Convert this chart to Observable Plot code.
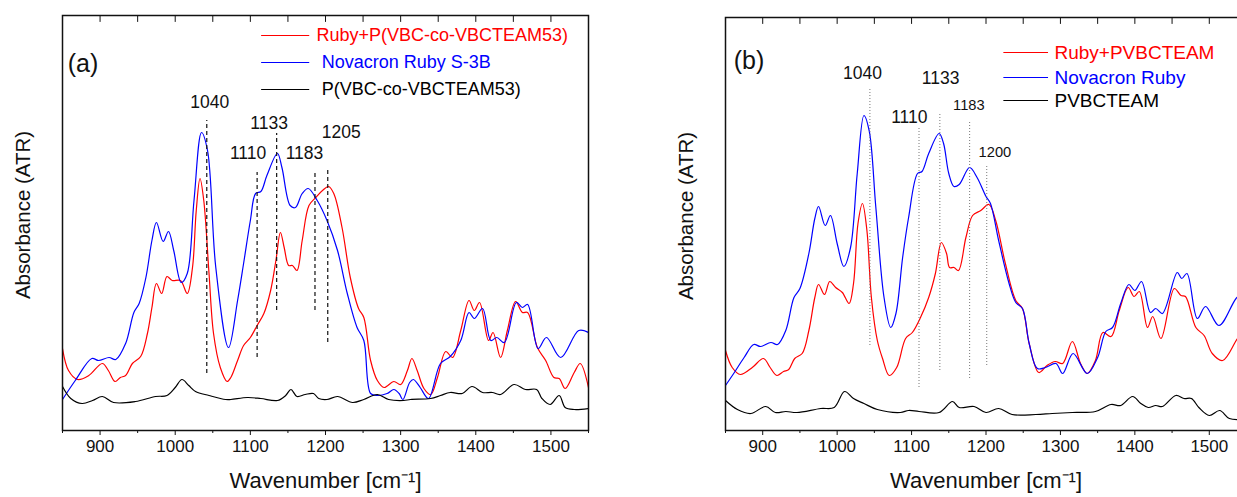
<!DOCTYPE html>
<html><head><meta charset="utf-8">
<script src="https://cdn.jsdelivr.net/npm/d3@7"></script>
<script src="https://cdn.jsdelivr.net/npm/@observablehq/plot@0.6"></script>
<style>
html,body{margin:0;padding:0;background:#fff;overflow:hidden;}
#wrap{position:relative;width:1237px;height:497px;overflow:hidden;background:#fff;}
#pa{position:absolute;left:0;top:0;width:618px;height:497px;}
#pb{position:absolute;left:618px;top:0;width:640px;height:497px;}
#wrap svg{max-width:none !important;display:block;}
</style></head>
<body><div id="wrap"><div id="pa"></div><div id="pb"></div></div>
<script>
// ---------- Panel (a) spectra: [wavenumber cm-1, absorbance a.u.] ----------
const aRubyMix = [[850,.082],[858,.060],[870,.051],[885,.055],[903,.067],[911,.060],[920,.049],[927,.053],[934,.055],[943,.067],[954,.074],[963,.097],[969,.123],[975,.147],[982,.137],[989,.154],[996,.150],[1007,.150],[1016,.137],[1023,.163],[1028,.220],[1033,.252],[1038,.230],[1045,.157],[1051,.097],[1060,.063],[1069,.049],[1074,.053],[1083,.070],[1091,.085],[1100,.093],[1109,.105],[1118,.117],[1127,.140],[1134,.170],[1140,.198],[1145,.183],[1151,.165],[1156,.165],[1162,.160],[1169,.190],[1178,.225],[1187,.233],[1196,.240],[1204,.244],[1211,.237],[1222,.203],[1233,.153],[1244,.122],[1251,.113],[1260,.070],[1269,.050],[1278,.043],[1291,.049],[1300,.046],[1309,.060],[1315,.072],[1322,.060],[1331,.042],[1340,.036],[1349,.053],[1360,.079],[1369,.073],[1380,.100],[1391,.130],[1398,.120],[1405,.128],[1417,.090],[1423,.098],[1433,.073],[1442,.100],[1453,.129],[1462,.118],[1469,.118],[1482,.083],[1493,.070],[1504,.053],[1511,.052],[1519,.042],[1531,.058],[1539,.067],[1550,.043]];
const aRubyDye = [[850,.031],[867,.050],[889,.072],[898,.070],[912,.073],[921,.071],[934,.087],[945,.118],[952,.127],[961,.153],[969,.190],[975,.208],[984,.189],[991,.199],[998,.180],[1008,.148],[1016,.157],[1025,.230],[1035,.298],[1043,.280],[1054,.163],[1071,.083],[1083,.130],[1091,.167],[1100,.210],[1107,.237],[1114,.239],[1122,.255],[1136,.277],[1142,.263],[1153,.225],[1160,.223],[1169,.237],[1177,.242],[1189,.230],[1202,.210],[1216,.180],[1229,.137],[1242,.103],[1251,.090],[1260,.037],[1269,.035],[1282,.037],[1291,.041],[1298,.037],[1303,.031],[1312,.048],[1317,.051],[1326,.043],[1337,.032],[1353,.067],[1366,.074],[1380,.090],[1391,.118],[1398,.112],[1409,.122],[1420,.090],[1428,.093],[1438,.088],[1454,.128],[1462,.123],[1469,.126],[1483,.082],[1494,.093],[1513,.073],[1537,.100],[1550,.098]];
const aPolymer = [[850,.044],[861,.032],[876,.027],[890,.030],[903,.034],[918,.028],[947,.029],[974,.034],[989,.035],[1000,.043],[1009,.051],[1018,.045],[1027,.039],[1045,.035],[1067,.031],[1074,.031],[1096,.033],[1114,.032],[1136,.030],[1147,.035],[1154,.041],[1162,.034],[1173,.036],[1184,.037],[1191,.032],[1202,.031],[1216,.034],[1236,.028],[1251,.031],[1269,.036],[1284,.031],[1304,.030],[1313,.031],[1340,.032],[1353,.035],[1366,.038],[1382,.037],[1395,.044],[1409,.038],[1422,.038],[1433,.036],[1451,.046],[1466,.041],[1481,.041],[1488,.032],[1499,.026],[1511,.035],[1519,.023],[1531,.021],[1550,.022]];

// ---------- Panel (b) spectra ----------
const bRubyMix = [[850,.080],[859,.063],[870,.056],[886,.063],[901,.072],[910,.063],[919,.055],[928,.059],[935,.061],[943,.072],[953,.077],[962,.100],[970,.133],[975,.146],[983,.136],[990,.149],[998,.143],[1007,.138],[1016,.127],[1022,.147],[1028,.207],[1034,.227],[1040,.200],[1046,.133],[1054,.090],[1061,.072],[1070,.055],[1080,.063],[1092,.092],[1101,.098],[1112,.113],[1123,.133],[1132,.157],[1140,.188],[1147,.177],[1151,.163],[1157,.163],[1163,.160],[1173,.193],[1182,.215],[1193,.220],[1204,.226],[1213,.210],[1226,.167],[1240,.130],[1249,.122],[1258,.087],[1271,.058],[1282,.065],[1293,.069],[1303,.067],[1316,.089],[1327,.067],[1336,.057],[1347,.070],[1357,.098],[1368,.094],[1379,.120],[1391,.143],[1399,.134],[1406,.139],[1417,.103],[1424,.114],[1435,.092],[1453,.142],[1462,.135],[1468,.134],[1482,.103],[1493,.095],[1504,.077],[1518,.070],[1538,.092],[1548,.100]];
const bRubyDye = [[850,.045],[861,.057],[875,.073],[888,.086],[897,.084],[911,.088],[920,.086],[931,.100],[942,.133],[950,.142],[962,.177],[970,.212],[975,.224],[984,.205],[991,.215],[1000,.187],[1009,.164],[1018,.183],[1027,.257],[1036,.315],[1043,.300],[1052,.223],[1063,.133],[1072,.103],[1079,.117],[1088,.173],[1096,.213],[1108,.257],[1114,.259],[1123,.277],[1137,.297],[1143,.287],[1150,.257],[1157,.244],[1164,.246],[1178,.263],[1188,.253],[1200,.234],[1206,.227],[1217,.190],[1231,.147],[1240,.128],[1249,.122],[1258,.087],[1269,.062],[1280,.063],[1294,.067],[1303,.057],[1317,.077],[1336,.057],[1350,.073],[1361,.099],[1370,.103],[1381,.127],[1392,.146],[1400,.140],[1409,.149],[1421,.118],[1428,.122],[1437,.117],[1457,.158],[1463,.152],[1470,.157],[1484,.112],[1495,.124],[1513,.105],[1536,.132],[1548,.140]];
const bPolymer = [[850,.030],[866,.021],[884,.017],[904,.024],[917,.018],[931,.019],[946,.018],[978,.022],[996,.023],[1010,.039],[1022,.032],[1036,.027],[1054,.021],[1085,.018],[1096,.020],[1110,.019],[1137,.018],[1155,.029],[1164,.023],[1184,.024],[1200,.018],[1217,.022],[1235,.016],[1267,.016],[1289,.017],[1316,.018],[1347,.019],[1368,.026],[1381,.025],[1397,.034],[1408,.027],[1418,.023],[1428,.025],[1437,.024],[1455,.035],[1466,.032],[1476,.032],[1486,.023],[1500,.015],[1514,.020],[1527,.012],[1548,.011]];

// ---------- Series names / colours ----------
const aNames = ["Ruby+P(VBC-co-VBCTEAM53)", "Novacron Ruby S-3B", "P(VBC-co-VBCTEAM53)"];
const bNames = ["Ruby+PVBCTEAM", "Novacron Ruby", "PVBCTEAM"];
const seriesColors = ["#ff0000", "#0000ff", "#000000"];

// ---------- Peak annotations ----------
const aPeakLabels = ["1040", "1110", "1133", "1183", "1205"];
const aPeakX      = [1042, 1109, 1135, 1186, 1203];
const aPeakTop    = [.310, .258, .297, .260, .263];
const aPeakBottom = [.057, .073, .120, .120, .088];
const aLabelX     = [1046, 1097, 1125, 1172, 1221];
const aLabelY     = [.328, .277, .307, .277, .298];
const aLabelSize  = [17.5, 17.5, 17.5, 17.5, 17.5];

const bPeakLabels = ["1040", "1110", "1133", "1183", "1200"];
const bPeakX      = [1044, 1110, 1138, 1178, 1201];
const bPeakTop    = [.343, .302, .318, .310, .265];
const bPeakBottom = [.085, .043, .060, .052, .065];
const bLabelX     = [1034, 1097, 1139, 1177, 1212];
const bLabelY     = [.357, .313, .352, .325, .278];
const bLabelSize  = [17.5, 17.5, 17.5, 14.7, 14.7];

// ---------- Axis ticks ----------
const majorTicks = [900, 1000, 1100, 1200, 1300, 1400, 1500];
const minorTicks = [850, 950, 1050, 1150, 1250, 1350, 1450, 1550];
const allTicks = [...majorTicks, ...minorTicks];

const FONT = '"Liberation Sans", Arial, Helvetica, sans-serif';
const tickShape = {draw(ctx, l) { ctx.moveTo(0, 0); ctx.lineTo(0, -l); }};

function panel(o) {
  const series = [o.s0, o.s1, o.s2];
  const idx = d3.range(o.peakLabels.length);
  const leg = d3.range(3);
  return Plot.plot({
    width: o.width, height: 497,
    marginLeft: o.ml, marginRight: o.mr, marginTop: o.mt, marginBottom: 67,
    style: {fontFamily: FONT, fontSize: "16px", color: "#111", background: "#fff", overflow: "visible", maxWidth: "none"},
    x: {domain: [850, 1550]},
    y: {domain: [0, o.yMax], axis: null},
    color: {type: "identity"},
    marks: [
      Plot.axisX({ticks: majorTicks, tickSize: 5, tickPadding: 4, fontSize: 17, label: null, tickFormat: d => String(d), stroke: "#111", fill: "#111"}),
      Plot.axisX({ticks: minorTicks, tickSize: 3, label: null, tickFormat: () => "", stroke: "#111"}),
      Plot.vector(allTicks, {x: d => d, frameAnchor: "top", length: 6, rotate: 180, anchor: "start", shape: tickShape, stroke: "#111", strokeWidth: 1}),
      ...series.map((s, i) => Plot.line(s, {x: d => d[0], y: d => d[1], stroke: seriesColors[i], strokeWidth: 1.2, curve: "catmull-rom", clip: "frame"})),
      Plot.ruleX(idx, {x: i => o.peakX[i], y1: i => o.peakBottom[i], y2: i => o.peakTop[i], stroke: o.ruleColor, strokeWidth: o.ruleWidth, strokeDasharray: o.dash}),
      Plot.text(idx, {x: i => o.labelX[i], y: i => o.labelY[i], text: i => o.peakLabels[i], fontSize: i => o.labelSize[i], fill: "#111"}),
      Plot.ruleY(leg, {y: i => o.legY[i], x1: o.legX1, x2: o.legX2, stroke: i => seriesColors[i], strokeWidth: 1.2}),
      Plot.text(leg, {x: i => o.legTextX[i], y: i => o.legY[i], text: i => o.names[i], fill: i => seriesColors[i], textAnchor: "start", fontSize: o.legSize}),
      Plot.text([o.tag], {x: o.tagX, y: o.tagY, textAnchor: "start", fontSize: 25, fill: "#111"}),
      Plot.text(["Wavenumber [cm\u207B\u00B9]"], {frameAnchor: "bottom", lineAnchor: "middle", textAnchor: "middle", dy: 50, fontSize: 22, fill: "#111"}),
      Plot.text(["Absorbance (ATR)"], {frameAnchor: "left", lineAnchor: "middle", textAnchor: "middle", dx: -39, dy: -8, rotate: -90, fontSize: 20.5, fill: "#111"}),
      Plot.frame({stroke: "#111", strokeWidth: 1.5})
    ]
  });
}

document.getElementById("pa").append(panel({
  width: 618, ml: 62, mr: 30, mt: 15, yMax: 0.415,
  s0: aRubyMix, s1: aRubyDye, s2: aPolymer, names: aNames,
  peakLabels: aPeakLabels, peakX: aPeakX, peakTop: aPeakTop, peakBottom: aPeakBottom,
  labelX: aLabelX, labelY: aLabelY, labelSize: aLabelSize,
  ruleColor: "#111", ruleWidth: 1.2, dash: "4,3",
  legY: [.395, .368, .341], legX1: 1115, legX2: 1179, legTextX: [1188, 1195, 1195], legSize: 18,
  tag: "(a)", tagX: 857, tagY: .367
}));

document.getElementById("pb").append(panel({
  width: 640, ml: 107, mr: 12, mt: 17, yMax: 0.413,
  s0: bRubyMix, s1: bRubyDye, s2: bPolymer, names: bNames,
  peakLabels: bPeakLabels, peakX: bPeakX, peakTop: bPeakTop, peakBottom: bPeakBottom,
  labelX: bLabelX, labelY: bLabelY, labelSize: bLabelSize,
  ruleColor: "#777", ruleWidth: 1, dash: "1,2",
  legY: [.378, .353, .330], legX1: 1224, legX2: 1284, legTextX: [1292, 1292, 1292], legSize: 19,
  tag: "(b)", tagX: 861, tagY: .370
}));
</script>
</body></html>
